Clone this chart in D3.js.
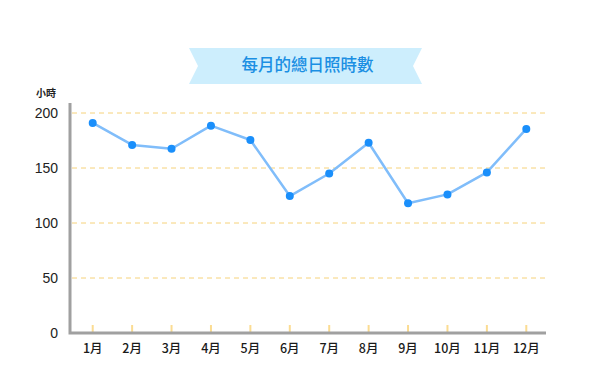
<!DOCTYPE html>
<html>
<head>
<meta charset="utf-8">
<script src="https://cdn.jsdelivr.net/npm/d3@7"></script>
<style>
  body { margin: 0; background: #fff; }
  text { font-family: "Noto Sans CJK TC", "Noto Sans", sans-serif; }
</style>
</head>
<body>
<svg id="chart" width="590" height="386" viewBox="0 0 590 386"></svg>
<script>
// monthly sunshine hours
const months = ["1月","2月","3月","4月","5月","6月","7月","8月","9月","10月","11月","12月"]
const hours = [191, 171, 167.5, 188.5, 175.5, 124.5, 145, 173, 118, 126, 146, 185.5]
const yTicks = [0, 50, 100, 150, 200]
const title = "每月的總日照時數"
const yUnit = "小時"

const svg = d3.select("#chart")

// banner behind the title
const bx0 = 189, bx1 = 422, by0 = 48, by1 = 84, notch = 9
const bym = (by0 + by1) / 2
svg.append("path")
    .attr("d", `M${bx0},${by0} L${bx1},${by0} L${bx1-notch},${bym} L${bx1},${by1} L${bx0},${by1} L${bx0+notch},${bym} Z`)
    .attr("fill", "#cdeefd")
svg.append("text")
    .attr("x", (bx0 + bx1) / 2 + 2)
    .attr("y", bym + 1)
    .attr("text-anchor", "middle")
    .attr("dominant-baseline", "middle")
    .attr("font-size", 16.5)
    .attr("font-weight", 500)
    .attr("fill", "#1b8fe3")
    .text(title)

const x = d3.scaleBand()
    .domain(months)
    .range([73, 546])
    .paddingInner(0)
    .paddingOuter(0)

const y = d3.scaleLinear()
    .domain([0, 200])
    .range([333, 113])

// dashed gridlines
svg.append("g")
    .selectAll("line")
    .data(yTicks.filter(d => d > 0))
    .enter()
    .append("line")
    .attr("x1", 72).attr("x2", 546)
    .attr("y1", d => y(d)).attr("y2", d => y(d))
    .attr("stroke", "#f6d27a")
    .attr("stroke-width", 1)
    .attr("stroke-dasharray", "5,4")

// small yellow ticks along the bottom
svg.append("g")
    .selectAll("line")
    .data(months)
    .enter()
    .append("line")
    .attr("x1", d => x(d) + x.bandwidth() / 2)
    .attr("x2", d => x(d) + x.bandwidth() / 2)
    .attr("y1", 325).attr("y2", 332)
    .attr("stroke", "#fbdc92")
    .attr("stroke-width", 2)

// y axis labels
const yAxis = svg.append("g")
    .attr("transform", "translate(58,0)")
    .call(d3.axisLeft(y).tickValues(yTicks).tickSize(0).tickPadding(0))
yAxis.select(".domain").remove()
yAxis.selectAll("text")
    .attr("fill", "#222")
    .style("font-size", "14px")
    .style("font-family", "'Liberation Sans', Arial, sans-serif")

svg.append("text")
    .attr("x", 46).attr("y", 97)
    .attr("text-anchor", "middle")
    .attr("font-size", 10)
    .attr("font-weight", "bold")
    .attr("fill", "#222")
    .text(yUnit)

// x axis labels
const xAxis = svg.append("g")
    .attr("transform", "translate(0,342)")
    .call(d3.axisBottom(x).tickSize(0).tickPadding(0))
xAxis.select(".domain").remove()
xAxis.selectAll("text")
    .attr("font-size", 12.5)
    .attr("font-weight", 500)
    .attr("fill", "#1a1a1a")
    .attr("dy", "0.9em")

// axis lines
svg.append("path")
    .attr("d", "M70,103 L70,333 L546,333")
    .attr("fill", "none")
    .attr("stroke", "#a0a0a0")
    .attr("stroke-width", 3)

// series
const line = d3.line()
    .x((d, i) => x(months[i]) + x.bandwidth() / 2)
    .y(d => y(d))

svg.append("path")
    .datum(hours)
    .attr("d", line)
    .attr("fill", "none")
    .attr("stroke", "#80bdfa")
    .attr("stroke-width", 2.5)
    .attr("stroke-linejoin", "round")

svg.append("g")
    .selectAll("circle")
    .data(hours)
    .enter()
    .append("circle")
    .attr("cx", (d, i) => x(months[i]) + x.bandwidth() / 2)
    .attr("cy", d => y(d))
    .attr("r", 4)
    .attr("fill", "#1a8ffb")
</script>
</body>
</html>
